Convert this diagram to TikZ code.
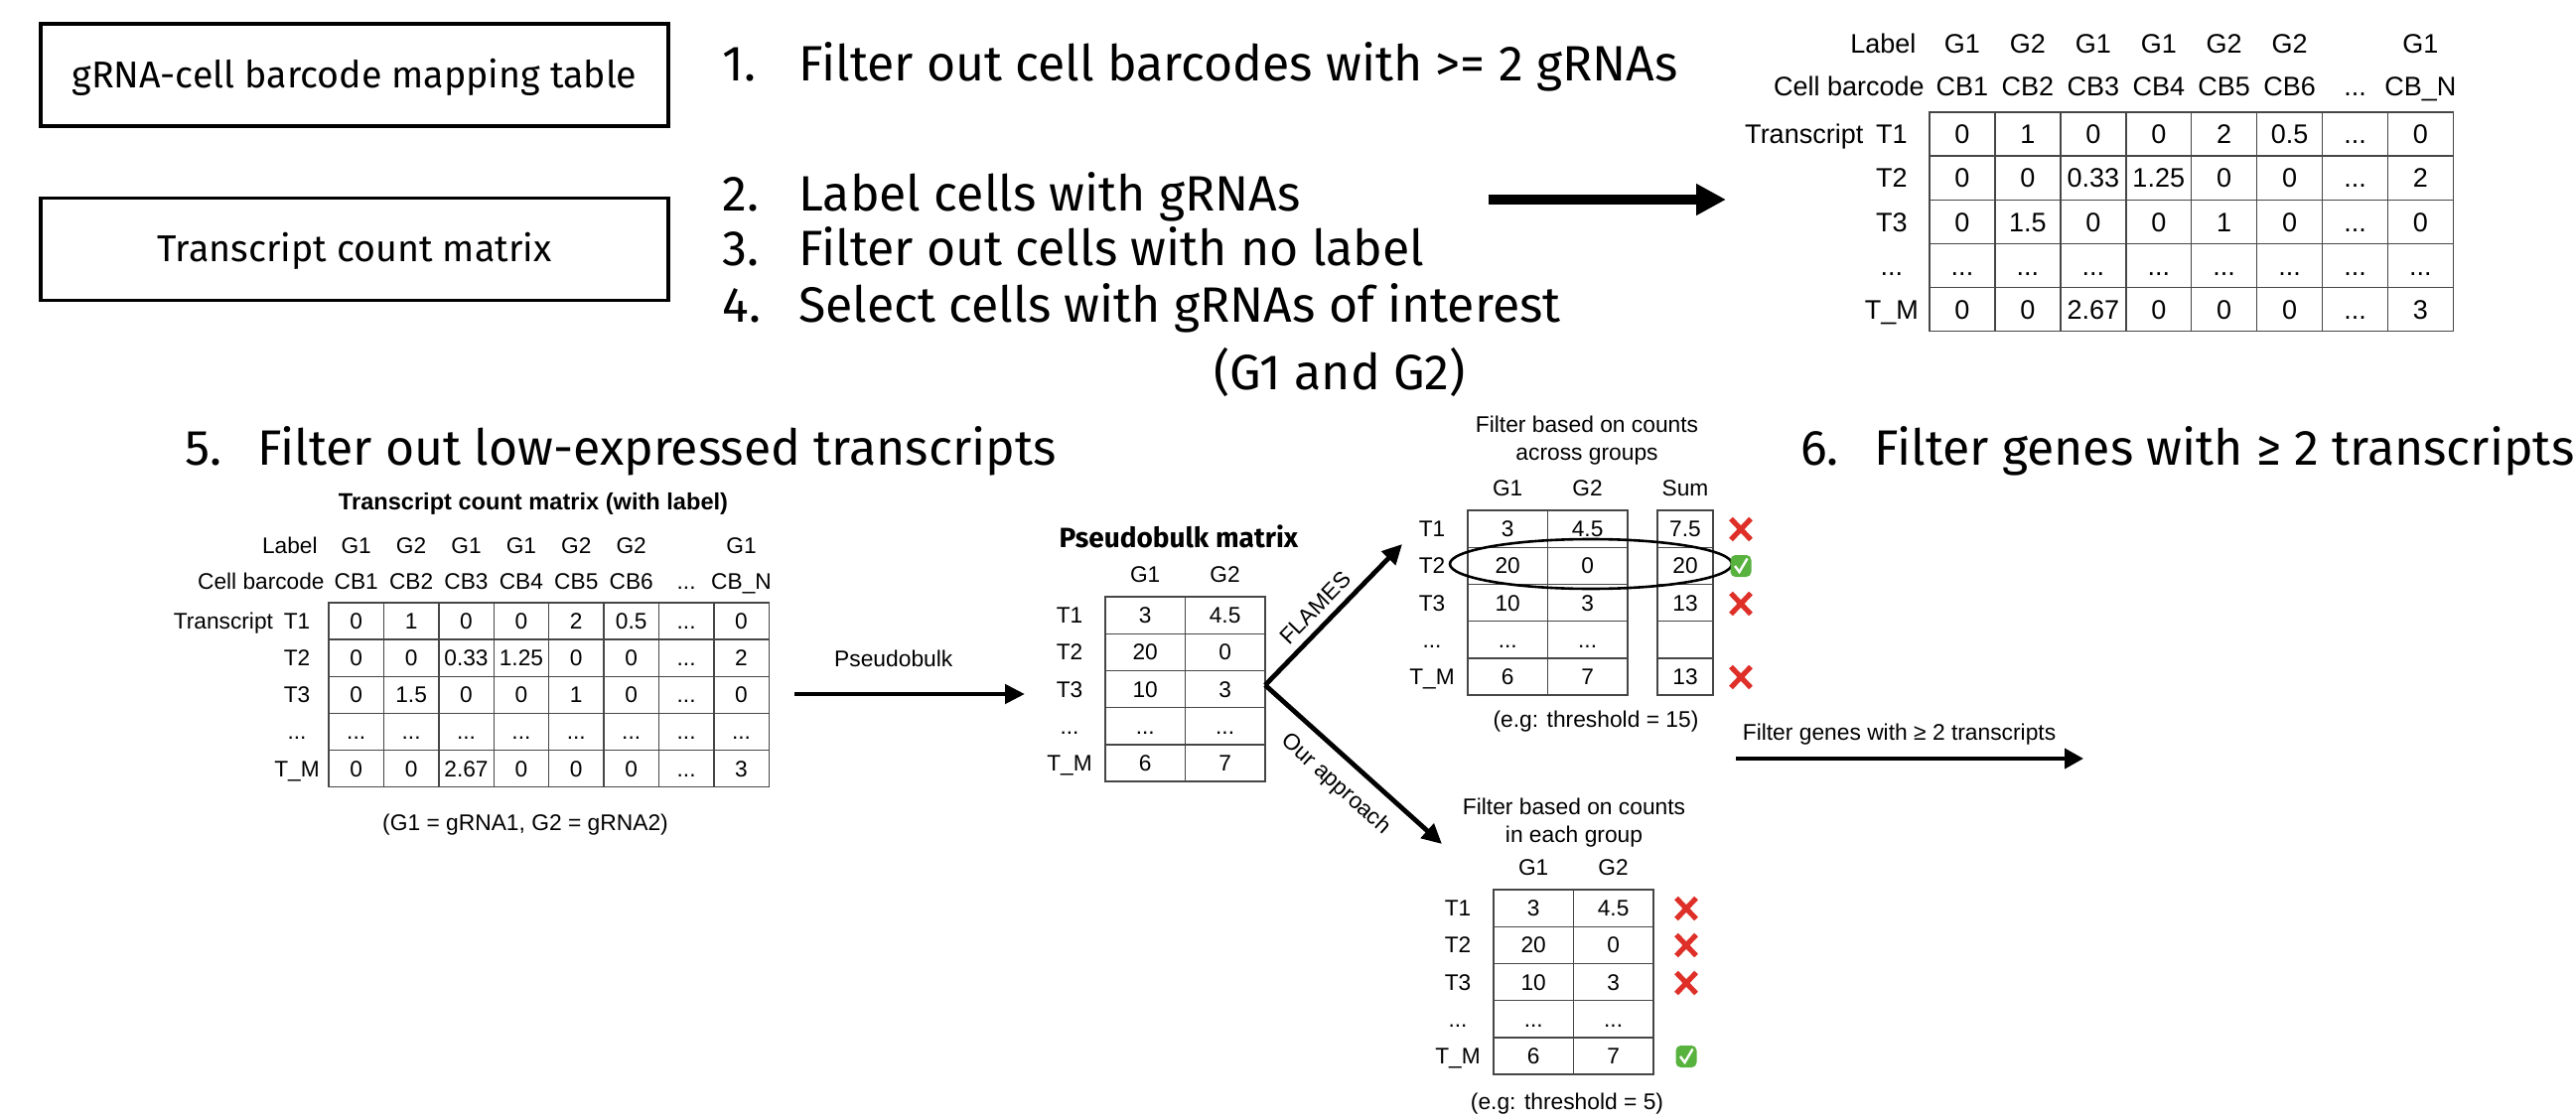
\documentclass[tikz,border=0pt]{standalone}
\usepackage{fontspec}
\setmainfont{Liberation Sans}
\newfontfamily\plex{Fira Sans}
\usetikzlibrary{arrows.meta,shapes.geometric,calc}
\definecolor{gridc}{RGB}{70,70,70}
\definecolor{xred}{RGB}{222,48,40}
\definecolor{okgreen}{RGB}{88,178,62}
\newcommand\tdots{...}
\newcommand\tabfont{\fontsize{11.35pt}{13pt}\selectfont}
\tikzset{
  x=0.5pt, y=-0.5pt,
  cell/.style={draw=gridc, line width=0.7pt, inner sep=0pt, font=\tabfont, text height=8.1pt, text depth=0pt},
  tx/.style={inner sep=0pt, font=\tabfont, text height=8.1pt, text depth=0pt},
  small/.style={inner sep=0pt, font=\fontsize{11.4pt}{13pt}\selectfont, text depth=0pt},
  inbox/.style={draw, line width=1.6pt, minimum width=316pt, minimum height=51.5pt, inner sep=0pt,
    font=\plex\fontsize{18.8pt}{22pt}\selectfont, text height=13pt, text depth=0pt},
  stepline/.style={inner sep=0pt, anchor=base west, font=\plex\fontsize{25pt}{30pt}\selectfont},
  fatarrow/.style={line width=5pt, -{Triangle[length=15pt,width=15pt]}},
  midarrow/.style={line width=2.4pt, -{Triangle[length=10pt,width=9.5pt]}},
  thinarrow/.style={line width=2pt, -{Triangle[length=9.5pt,width=10pt]}},
  xmark/.pic={\draw[xred, line width=2.6pt] (-10,-10.5) -- (10,10.5) (-10,10.5) -- (10,-10.5);},
  okmark/.pic={\fill[okgreen, rounded corners=2.5pt] (-10.5,-11) rectangle (10.5,11);
    \draw[white, line width=1.2pt] (-6,0) -- (-1.5,6) -- (6.5,-7.5);}
}
% count matrix with labels, origin = top-left corner of the grid
\newcommand\counttable[1]{%
  \foreach \rowvals [count=\r] in {{0,1,0,0,2,0.5,\tdots,0},{0,0,0.33,1.25,0,0,\tdots,2},{0,1.5,0,0,1,0,\tdots,0},{\tdots,\tdots,\tdots,\tdots,\tdots,\tdots,\tdots,\tdots},{0,0,2.67,0,0,0,\tdots,3}}{
    \foreach \v [count=\c] in \rowvals {
      \node[cell, minimum width=27.7pt, minimum height=18.55pt] (#1-\r-\c) at ({(\c-0.5)*55.4},{(\r-0.5)*37.1}) {\v};
    }
  }
  \foreach \t [count=\r] in {T1,T2,T3,\tdots,T\_M}
    \node[tx] (#1-rl-\r) at (-32,{(\r-0.5)*37.1}) {\t};
  \node[tx, anchor=base east] (#1-tr) at ([xshift=-5pt]#1-rl-1.base west) {Transcript};
  \node[tx, anchor=base east] (#1-hl) at (-11,-50) {Label};
  \node[tx, anchor=base east] (#1-hc) at (-4,-14) {Cell barcode};
  \foreach \c/\t in {1/G1,2/G2,3/G1,4/G1,5/G2,6/G2,8/G1}
    \node[tx, anchor=base] (#1-g-\c) at ({(\c-0.5)*55.4},-50) {\t};
  \foreach \c/\t in {1/CB1,2/CB2,3/CB3,4/CB4,5/CB5,6/CB6,7/\tdots,8/CB\_N}
    \node[tx, anchor=base] (#1-cb-\c) at ({(\c-0.5)*55.4},-14) {\t};
}
% two-group pseudobulk table, origin = top-left corner of the grid
\newcommand\grouptable[1]{%
  \foreach \rowvals [count=\r] in {{3,4.5},{20,0},{10,3},{\tdots,\tdots},{6,7}}{
    \foreach \v [count=\c] in \rowvals {
      \node[cell, minimum width=40.2pt, minimum height=18.6pt] (#1-\r-\c) at ({(\c-0.5)*80.4},{(\r-0.5)*37.2}) {\v};
    }
  }
  \foreach \t [count=\r] in {T1,T2,T3,\tdots,T\_M}
    \node[tx] (#1-rl-\r) at (-36,{(\r-0.5)*37.2}) {\t};
  \node[tx, anchor=base] (#1-g1) at (40.2,-15) {G1};
  \node[tx, anchor=base] (#1-g2) at (120.6,-15) {G2};
}
\begin{document}
\begin{tikzpicture}
\useasboundingbox (0,0) rectangle (2594,1128);
\fill[white] (0,0) rectangle (2594,1128);

% input boxes
\node[inbox] (map) at (357,75.5) {gRNA-cell barcode mapping table};
\node[inbox] (tcm) at (357,251) {Transcript count matrix};

% steps 1-4
\node[stepline] (s1) at (727,82) {\makebox[38.5pt][l]{1.}Filter out cell barcodes with >= 2 gRNAs};
\node[stepline] (s2) at (727,213) {\makebox[38.5pt][l]{2.}Label cells with gRNAs};
\node[stepline] (s3) at (727,268) {\makebox[38.5pt][l]{3.}Filter out cells with no label};
\node[stepline] (s4) at (727,325) {\makebox[38.5pt][l]{4.}Select cells with gRNAs of interest};
\node[stepline] (s4b) at (1222,393) {(G1 and G2)};

% top arrow
\coordinate (ta) at (1499,201);
\coordinate (tb) at (1738,201);
\draw[fatarrow] (ta) -- (tb);

% top-right labelled matrix
\begin{scope}[shift={(1943,113)}, scale=1.19, transform shape]
  \counttable{tr}
\end{scope}

% steps 5 and 6
\node[stepline] (s5) at (186,468) {\makebox[36.5pt][l]{5.}Filter out low-expressed transcripts};
\node[stepline] (s6) at (1813,468) {\makebox[37pt][l]{6.}Filter genes with ≥ 2 transcripts};

% lower-left labelled matrix
\node[small, anchor=base, font=\bfseries\fontsize{11.8pt}{14pt}\selectfont] (lltitle) at (537,513) {Transcript count matrix (with label)};
\begin{scope}[shift={(331,607)}]
  \counttable{ll}
\end{scope}
\node[small, anchor=base] (llnote) at (529,836) {(G1 = gRNA1, G2 = gRNA2)};

% pseudobulk arrow
\coordinate (pa) at (800,699);
\coordinate (pb0) at (1032,699);
\draw[midarrow] (pa) -- node[small, pos=0.43, above, yshift=12.5pt] (pblab) {Pseudobulk} (pb0);

% pseudobulk matrix
\node[inner sep=0pt, anchor=base, font=\plex\bfseries\fontsize{14pt}{16pt}\selectfont] (pbtitle) at (1187,551) {Pseudobulk matrix};
\begin{scope}[shift={(1113,601)}]
  \grouptable{pb}
\end{scope}

% branches
\coordinate (fork) at (1274,690);
\coordinate (flin) at (1412,548);
\coordinate (oain) at (1452,850);
\draw[midarrow] (fork) -- node[small, sloped, above, pos=0.46, inner sep=4pt] (flamlab) {FLAMES} (flin);
\draw[midarrow] (fork) -- node[small, sloped, below, pos=0.5, inner sep=7pt] (oalab) {Our approach} (oain);

% FLAMES table
\node[small, anchor=base] (flt1) at (1598,435) {Filter based on counts};
\node[small, anchor=base] (flt2) at (1598,463) {across groups};
\begin{scope}[shift={(1478,514)}]
  \grouptable{fl}
  \foreach \v [count=\r] in {7.5,20,13,{},13}
    \node[cell, minimum width=28pt, minimum height=18.6pt] (fl-s-\r) at (219,{(\r-0.5)*37.2}) {\v};
  \node[tx, anchor=base] (fl-sum) at (219,-15) {Sum};
\end{scope}
\node[draw, ellipse, line width=1.3pt, minimum width=142pt, minimum height=25pt, inner sep=0pt] (ring) at (1602,568) {};
\pic at (1753,533) {xmark};
\pic at (1753,570) {okmark};
\pic at (1753,608) {xmark};
\pic at (1753,682) {xmark};
\node[small, anchor=base] (flthr) at (1607,732) {(e.g: threshold = 15)};

% our approach table
\node[small, anchor=base] (oat1) at (1585,820) {Filter based on counts};
\node[small, anchor=base] (oat2) at (1585,848) {in each group};
\begin{scope}[shift={(1504,896)}]
  \grouptable{oa}
\end{scope}
\pic at (1698,915) {xmark};
\pic at (1698,952) {xmark};
\pic at (1698,990) {xmark};
\pic at (1698,1064) {okmark};
\node[small, anchor=base] (oathr) at (1578,1117) {(e.g: threshold = 5)};

% filter genes arrow
\coordinate (ga) at (1748,764);
\coordinate (gb) at (2098,764);
\draw[thinarrow] (ga) -- node[small, pos=0.47, above, yshift=8.5pt] (glab) {Filter genes with ≥ 2 transcripts} (gb);
\end{tikzpicture}
\end{document}
